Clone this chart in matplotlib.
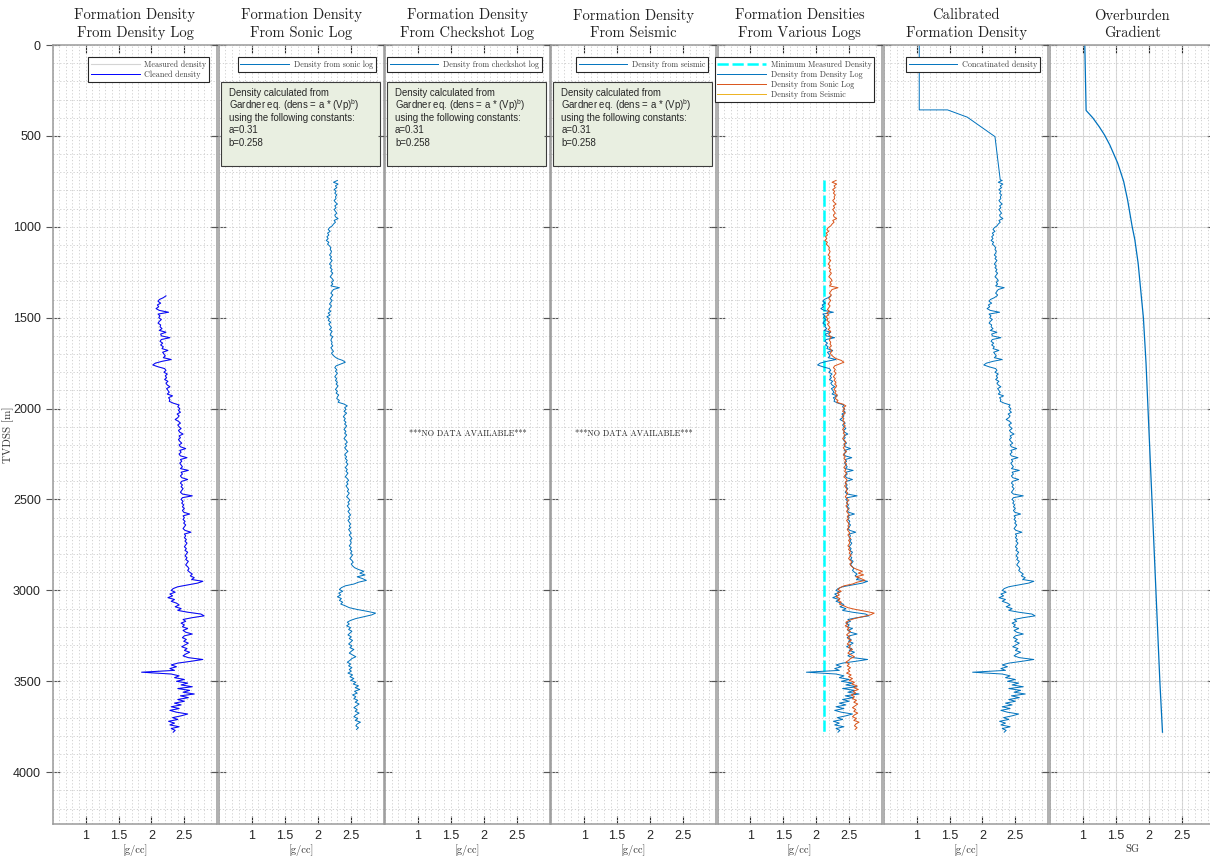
import numpy as np
import matplotlib
matplotlib.use("Agg")
import matplotlib.pyplot as plt
from matplotlib.ticker import MultipleLocator
from matplotlib.patches import Rectangle

plt.rcParams['font.family'] = 'Liberation Sans'
plt.rcParams['mathtext.fontset'] = 'custom'
plt.rcParams['mathtext.rm'] = 'Liberation Sans'

# Track titles and axis labels.
titles = [
    "Formation Density\nFrom Density Log",
    "Formation Density\nFrom Sonic Log",
    "Formation Density\nFrom Checkshot Log",
    "Formation Density\nFrom Seismic",
    "Formation Densities\nFrom Various Logs",
    "Calibrated\nFormation Density",
    "Overburden\nGradient",
]
x_labels = ["[g/cc]"] * 6 + ["SG"]
x_ticks = [1, 1.5, 2, 2.5]
x_tick_labels = ["1", "1.5", "2", "2.5"]
depth_ticks = [0, 500, 1000, 1500, 2000, 2500, 3000, 3500, 4000]

gardner_lines = [
    "Density calculated from",
    "Gardner eq. (dens = a * (Vp)$^{\\mathrm{b}}$)",
    "using the following constants:",
    "a=0.31",
    "b=0.258",
]

# Cleaned density log, sampled every 10 m from 1380 m.
density_log_top = 1380
density_log_step = 10
density_log_values = [
    2.22, 2.18, 2.12, 2.10, 2.14, 2.09, 2.11, 2.07, 2.12, 2.26,
    2.10, 2.13, 2.11, 2.15, 2.12, 2.10, 2.14, 2.13, 2.16, 2.12,
    2.22, 2.14, 2.15, 2.28, 2.15, 2.13, 2.17, 2.14, 2.18, 2.16,
    2.25, 2.17, 2.19, 2.21, 2.18, 2.30, 2.16, 2.06, 2.02, 2.10,
    2.20, 2.22, 2.19, 2.24, 2.21, 2.23, 2.20, 2.25, 2.22, 2.24,
    2.28, 2.23, 2.25, 2.27, 2.24, 2.32, 2.26, 2.28, 2.27, 2.33,
    2.42, 2.40, 2.43, 2.41, 2.44, 2.39, 2.42, 2.40, 2.36, 2.41,
    2.44, 2.40, 2.42, 2.45, 2.41, 2.43, 2.48, 2.42, 2.44, 2.41,
    2.43, 2.46, 2.42, 2.44, 2.52, 2.43, 2.45, 2.42, 2.44, 2.54,
    2.44, 2.46, 2.43, 2.45, 2.47, 2.44, 2.56, 2.45, 2.47, 2.44,
    2.46, 2.55, 2.46, 2.44, 2.47, 2.45, 2.48, 2.46, 2.44, 2.47,
    2.62, 2.47, 2.45, 2.48, 2.46, 2.49, 2.47, 2.50, 2.47, 2.49,
    2.58, 2.48, 2.50, 2.48, 2.51, 2.49, 2.52, 2.50, 2.48, 2.51,
    2.60, 2.50, 2.52, 2.50, 2.53, 2.51, 2.54, 2.52, 2.50, 2.53,
    2.51, 2.55, 2.53, 2.51, 2.54, 2.52, 2.56, 2.54, 2.52, 2.55,
    2.57, 2.55, 2.58, 2.62, 2.59, 2.65, 2.61, 2.78, 2.70, 2.55,
    2.40, 2.33, 2.30, 2.36, 2.28, 2.32, 2.25, 2.35, 2.30, 2.38,
    2.42, 2.36, 2.45, 2.40, 2.55, 2.75, 2.80, 2.62, 2.48, 2.52,
    2.45, 2.50, 2.47, 2.55, 2.48, 2.52, 2.62, 2.50, 2.47, 2.53,
    2.49, 2.56, 2.51, 2.46, 2.54, 2.50, 2.58, 2.52, 2.48, 2.56,
    2.78, 2.60, 2.40, 2.30, 2.38, 2.28, 2.35, 1.85, 2.30, 2.42,
    2.35, 2.50, 2.38, 2.55, 2.45, 2.62, 2.40, 2.58, 2.48, 2.65,
    2.44, 2.56, 2.40, 2.50, 2.35, 2.45, 2.30, 2.42, 2.28, 2.38,
    2.55, 2.45, 2.32, 2.40, 2.26, 2.35, 2.28, 2.42, 2.30, 2.36,
    2.33,
]

# Density from the sonic log, sampled every 10 m from 745 m.
sonic_top = 745
sonic_step = 10
sonic_values = [
    2.30, 2.24, 2.31, 2.27, 2.29, 2.25, 2.28, 2.26, 2.29, 2.27,
    2.28, 2.25, 2.27, 2.30, 2.26, 2.28, 2.25, 2.27, 2.29, 2.26,
    2.27, 2.31, 2.25, 2.27, 2.24, 2.22, 2.18, 2.16, 2.19, 2.15,
    2.17, 2.14, 2.16, 2.13, 2.17, 2.15, 2.18, 2.20, 2.19, 2.21,
    2.20, 2.18, 2.21, 2.19, 2.22, 2.20, 2.18, 2.21, 2.19, 2.22,
    2.20, 2.23, 2.21, 2.19, 2.22, 2.24, 2.21, 2.23, 2.20, 2.33,
    2.24, 2.22, 2.20, 2.23, 2.21, 2.19, 2.22, 2.20, 2.18, 2.21,
    2.19, 2.17, 2.20, 2.16, 2.19, 2.14, 2.18, 2.16, 2.20, 2.17,
    2.19, 2.21, 2.18, 2.22, 2.20, 2.19, 2.23, 2.21, 2.20, 2.22,
    2.21, 2.23, 2.20, 2.22, 2.24, 2.21, 2.23, 2.26, 2.30, 2.38,
    2.42, 2.35, 2.28, 2.26, 2.29, 2.27, 2.30, 2.28, 2.26, 2.29,
    2.27, 2.30, 2.28, 2.31, 2.29, 2.27, 2.30, 2.28, 2.32, 2.30,
    2.29, 2.33, 2.31, 2.40, 2.45, 2.41, 2.43, 2.40, 2.44, 2.41,
    2.39, 2.42, 2.40, 2.43, 2.41, 2.44, 2.42, 2.40, 2.43, 2.41,
    2.44, 2.42, 2.40, 2.43, 2.45, 2.42, 2.44, 2.41, 2.43, 2.46,
    2.43, 2.41, 2.44, 2.42, 2.45, 2.43, 2.46, 2.44, 2.42, 2.45,
    2.43, 2.46, 2.44, 2.42, 2.45, 2.47, 2.44, 2.46, 2.43, 2.45,
    2.47, 2.45, 2.48, 2.46, 2.44, 2.47, 2.49, 2.46, 2.48, 2.45,
    2.47, 2.49, 2.46, 2.48, 2.50, 2.47, 2.49, 2.46, 2.48, 2.50,
    2.48, 2.50, 2.47, 2.49, 2.51, 2.48, 2.50, 2.52, 2.49, 2.51,
    2.50, 2.48, 2.51, 2.49, 2.52, 2.50, 2.53, 2.51, 2.49, 2.52,
    2.54, 2.51, 2.53, 2.56, 2.62, 2.70, 2.64, 2.72, 2.60, 2.68,
    2.74, 2.62, 2.55, 2.42, 2.36, 2.33, 2.38, 2.32, 2.35, 2.30,
    2.36, 2.33, 2.38, 2.35, 2.42, 2.48, 2.60, 2.75, 2.88, 2.82,
    2.70, 2.58, 2.50, 2.45, 2.48, 2.44, 2.50, 2.47, 2.52, 2.49,
    2.46, 2.51, 2.48, 2.53, 2.50, 2.47, 2.52, 2.49, 2.55, 2.51,
    2.48, 2.53, 2.58, 2.52, 2.49, 2.45, 2.50, 2.47, 2.52, 2.48,
    2.51, 2.46, 2.53, 2.49, 2.55, 2.50, 2.58, 2.54, 2.62, 2.57,
    2.64, 2.56, 2.60, 2.53, 2.58, 2.55, 2.61, 2.57, 2.63, 2.59,
    2.55, 2.60, 2.57, 2.63, 2.58, 2.55, 2.61, 2.57, 2.65, 2.60,
    2.58, 2.62, 2.59,
]

# Sea water and shallow transition used on top of the calibrated density.
transition_depths = [0, 357, 357, 397, 504, 742]
transition_density = [1.04, 1.04, 1.47, 1.77, 2.19, 2.27]

# Minimum measured density marker.
min_measured_density = 2.12
min_density_depths = [745, 3780]

# Overburden gradient.
overburden_depths = [0, 360, 400, 450, 495, 550, 650, 750, 852, 1000, 1071,
                     1200, 1500, 1750, 2000, 2500, 3000, 3500, 3780]
overburden_sg = [1.03, 1.05, 1.15, 1.25, 1.33, 1.41, 1.53, 1.62, 1.68, 1.75,
                 1.79, 1.84, 1.92, 1.96, 1.99, 2.05, 2.11, 2.17, 2.21]

density_depth = density_log_top + density_log_step * np.arange(len(density_log_values))
sonic_depth = sonic_top + sonic_step * np.arange(len(sonic_values))
above = sonic_depth < density_log_top
calib_depth = np.concatenate([transition_depths, sonic_depth[above], density_depth])
calib_density = np.concatenate([transition_density, np.array(sonic_values)[above], density_log_values])

blue = '#0072bd'
orange = '#d95319'
yellow = '#edb120'
serif = 'cmr10'


def setup_track(ax, title, xlabel, first, solid_major=False):
    ax.set_xlim(0.5, 3)
    ax.set_ylim(4285, 0)
    ax.set_xticks(x_ticks)
    ax.set_xticklabels(x_tick_labels)
    ax.set_yticks(depth_ticks)
    ax.xaxis.set_minor_locator(MultipleLocator(0.1))
    ax.yaxis.set_minor_locator(MultipleLocator(100))
    ax.xaxis.remove_overlapping_locs = False
    ax.yaxis.remove_overlapping_locs = False
    ax.set_axisbelow(True)
    ax.grid(which='minor', color='#cbcbcb', ls=(0, (1.5, 2.5)), lw=0.6)
    if solid_major:
        ax.grid(which='major', color='#dcdcdc', ls='-', lw=0.8)
    ax.tick_params(which='minor', length=0)
    ax.tick_params(axis='x', which='major', direction='in', top=True, bottom=True,
                   length=6, width=0.8, color='#262626', labelsize=9,
                   labelcolor='#262626', pad=4)
    ax.tick_params(axis='y', which='major', direction='inout', left=True, right=True,
                   length=10, width=0.8, color='#555555', labelsize=9,
                   labelcolor='#262626', labelleft=first)
    for s in ax.spines.values():
        s.set_color('#9a9a9a')
        s.set_linewidth(1.1)
    ax.set_title(title, fontfamily=serif, fontsize=10.5, pad=6, color='#222222',
                 linespacing=1.3)
    ax.set_xlabel(xlabel, fontfamily=serif, fontsize=7.5, color='#333333', labelpad=2)


def add_legend(ax):
    leg = ax.legend(loc='upper right', bbox_to_anchor=(0.952, 0.984), borderaxespad=0,
                    prop={'family': serif, 'size': 5.8}, handlelength=6.0,
                    fancybox=False, edgecolor='#262626', framealpha=1,
                    borderpad=0.35, labelspacing=0.22, handletextpad=0.6)
    leg.get_frame().set_linewidth(0.8)
    for t in leg.get_texts():
        t.set_color('#404040')
    return leg


def add_note(ax):
    ax.add_patch(Rectangle((0.012, 0.845), 0.966, 0.107, transform=ax.transAxes,
                           facecolor='#e9efe1', edgecolor='#3c3c3c', lw=0.8, zorder=3))
    # one text per line so the superscript does not stretch the spacing
    for k, line in enumerate(gardner_lines):
        ax.text(0.06, 0.9384 - k * 0.016, line, transform=ax.transAxes, ha='left',
                va='center', fontsize=6.9, color='#262626', zorder=4)


def add_no_data(ax):
    ax.text(1.75, 2137, '***NO DATA AVAILABLE***', ha='center', va='center',
            fontfamily=serif, fontsize=6, color='#262626')


fig = plt.figure(figsize=(12.1, 8.57), dpi=100)
axes = []
for i in range(7):
    left = (52.7 + 166.2 * i) / 1210
    ax = fig.add_axes([left, 1 - 824 / 857, 164.6 / 1210, 779 / 857])
    setup_track(ax, titles[i], x_labels[i], i == 0, solid_major=(i == 6))
    axes.append(ax)

axes[0].set_ylabel('TVDSS [m]', fontfamily=serif, fontsize=8, color='#333333')
axes[0].yaxis.set_label_coords(-0.235, 0.5)

# Track 1: density log
ax = axes[0]
ax.plot(density_log_values, density_depth, color='#d4d4d4', lw=0.8, label='Measured density')
ax.plot(density_log_values, density_depth, color='#0000ff', lw=0.7, label='Cleaned density')
add_legend(ax)

# Track 2: sonic
ax = axes[1]
ax.plot(sonic_values, sonic_depth, color=blue, lw=0.7, label='Density from sonic log')
add_legend(ax)
add_note(ax)

# Track 3: checkshot
ax = axes[2]
ax.plot([], [], color=blue, lw=0.7, label='Density from checkshot log')
add_legend(ax)
add_note(ax)
add_no_data(ax)

# Track 4: seismic
ax = axes[3]
ax.plot([], [], color=blue, lw=0.7, label='Density from seismic')
add_legend(ax)
add_note(ax)
add_no_data(ax)

# Track 5: all logs
ax = axes[4]
ax.plot([min_measured_density] * 2, min_density_depths, color='#00ffff', lw=1.8,
        dashes=(4.5, 1.5), label='Minimum Measured Density')
ax.plot(density_log_values, density_depth, color=blue, lw=0.7, label='Density from Density Log')
ax.plot(sonic_values, sonic_depth, color=orange, lw=0.7, label='Density from Sonic Log')
ax.plot([], [], color=yellow, lw=0.7, label='Density from Seismic')
add_legend(ax)

# Track 6: calibrated
ax = axes[5]
ax.plot(calib_density, calib_depth, color=blue, lw=0.7, label='Concatinated density')
add_legend(ax)

# Track 7: overburden
ax = axes[6]
ax.plot(overburden_sg, overburden_depths, color=blue, lw=0.9)

fig.savefig('out.png', dpi=100)
